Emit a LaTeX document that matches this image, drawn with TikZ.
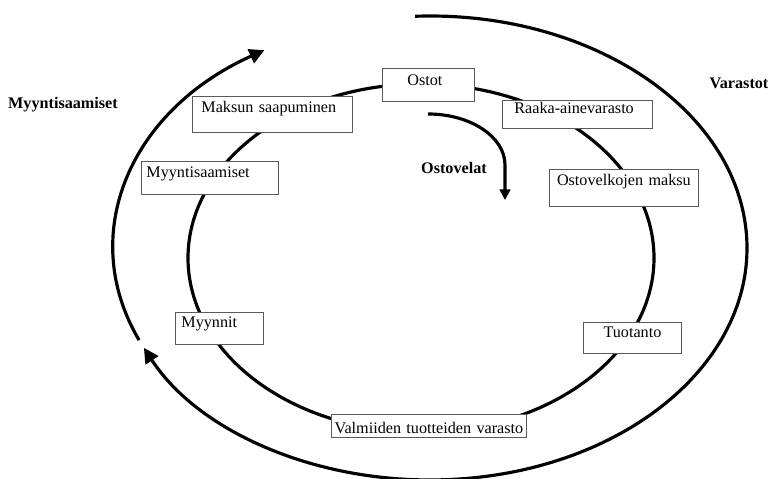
\documentclass[tikz,border=0pt]{standalone}
\usepackage{fontspec}
\setmainfont{Liberation Serif}
\usepackage{xcolor}
\usepackage{tikz}
\usetikzlibrary{positioning,arrows.meta}
\definecolor{boxgrey}{HTML}{5A5A5A}
\definecolor{cycleblack}{HTML}{000000}

\begin{document}
\begin{tikzpicture}[
    x=0.02cm, y=0.02cm,
    every node/.style={font=\fontsize{9.2}{11}\selectfont},
    cycle/.style={line width=1.8pt, color=cycleblack},
    flow/.style={cycle, -{Triangle[length=8.5pt,width=8.5pt]}},
    flowsmall/.style={cycle, -{Triangle[length=6pt,width=6pt]}},
    stagebox/.style={
      draw=boxgrey, fill=white, line width=0.5pt,
      anchor=north west, inner ysep=0pt, inner xsep=0pt, align=center
    },
    stageleft/.style={stagebox, align=left},
    phase/.style={font=\fontsize{9.2}{11}\selectfont\bfseries}
  ]
  \useasboundingbox (0,0) rectangle (771,479);

  % ---------- centres des cycles ----------
  \coordinate (innerc) at (421,221);
  \coordinate (outerc) at (430,231);
  \coordinate (debtstart) at (428,365);

  % ---------- cycle interieur ----------
  \draw[cycle] (innerc) ellipse[x radius=233, y radius=174];

  % ---------- cycles exterieurs : varastot et myyntisaamiset ----------
  \draw[flow] (outerc) ++(92.7:317 and 232)
    arc[start angle=92.7, end angle=-154.5, x radius=317, y radius=232];
  \draw[flow] (outerc) ++(203.4:317 and 232)
    arc[start angle=203.4, end angle=121.5, x radius=317, y radius=232];

  % ---------- ostovelat ----------
  \draw[flowsmall] (debtstart)
    arc[start angle=90, end angle=0, x radius=77, y radius=51] -- ++(0,-35);

  % ---------- vaiheet ----------
  \node[stageleft, inner xsep=0.50cm, text width=0.84cm, text height=0.34cm, text depth=0.32cm]
    (ostot) at (382,411) {Ostot};
  \node[stageleft, inner xsep=0.24cm, text width=2.52cm, text height=0.26cm, text depth=0.30cm]
    (raaka) at (502,379) {Raaka-ainevarasto};
  \node[stagebox, text width=2.98cm, text height=0.32cm, text depth=0.42cm]
    (velkmaksu) at (549,310) {Ostovelkojen maksu};
  \node[stagebox, text width=1.96cm, text height=0.30cm, text depth=0.32cm]
    (tuotanto) at (583,157) {Tuotanto};
  \node[stagebox, text width=3.90cm, text height=0.38cm, text depth=0.08cm]
    (valmiit) at (331,65) {Valmiiden tuotteiden varasto};
  \node[stageleft, inner xsep=0.12cm, text width=1.52cm, text height=0.30cm, text depth=0.34cm]
    (myynnit) at (175,167) {Myynnit};
  \node[stageleft, inner xsep=0.10cm, text width=2.54cm, text height=0.32cm, text depth=0.34cm]
    (saamiset) at (141,318) {Myyntisaamiset};
  \node[stageleft, inner xsep=0.18cm, text width=2.84cm, text height=0.32cm, text depth=0.40cm]
    (saapuminen) at (192,383) {Maksun saapuminen};

  % ---------- jaksojen nimet ----------
  \node[phase] (lblmyynti) at (63,374) {Myyntisaamiset};
  \node[phase] (lblvarastot) at (739,396) {Varastot};
  \node[phase] (lblvelat) at (454,311) {Ostovelat};

\end{tikzpicture}
\end{document}
